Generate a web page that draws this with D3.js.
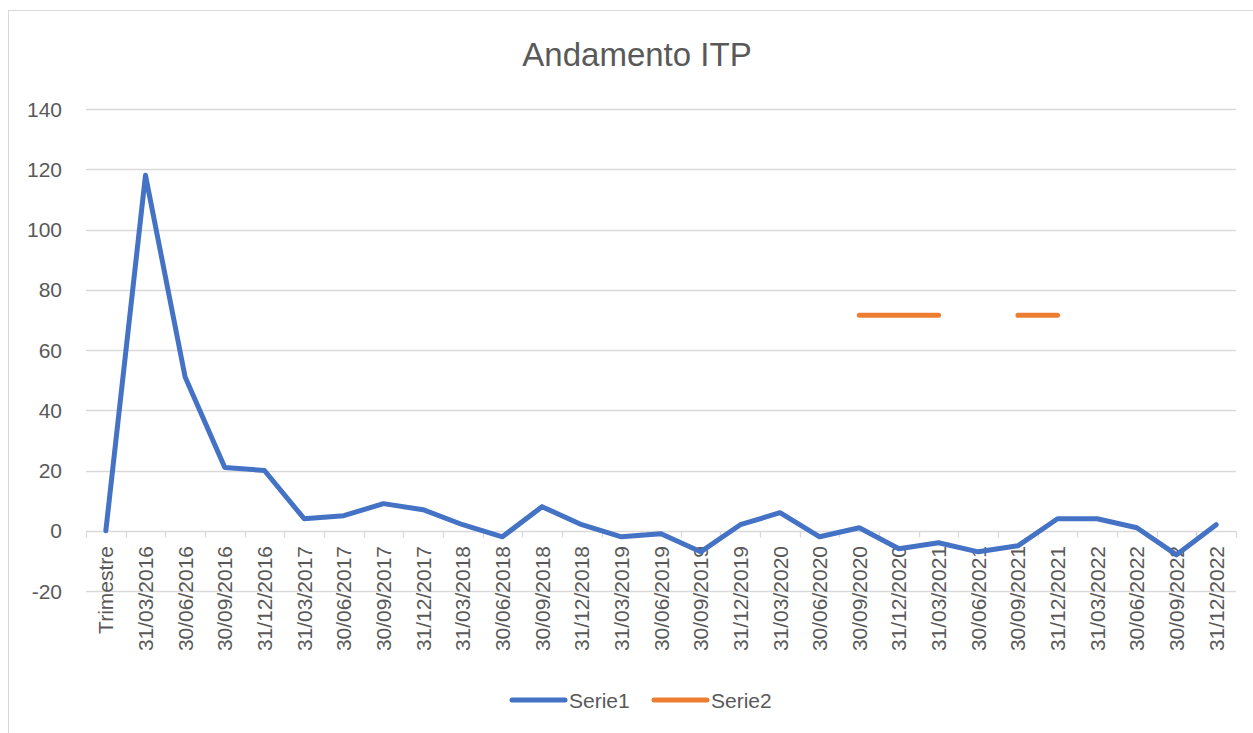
<!DOCTYPE html>
<html>
<head>
<meta charset="utf-8">
<script src="https://cdn.jsdelivr.net/npm/d3@7"></script>
<style>
  body { margin: 0; background: #fff; }
  text { font-family: "Liberation Sans", Arial, sans-serif; fill: #595959; }
</style>
</head>
<body>
<div id="wrapper"></div>
<script>
const categories = ["Trimestre", "31/03/2016", "30/06/2016", "30/09/2016", "31/12/2016",
  "31/03/2017", "30/06/2017", "30/09/2017", "31/12/2017",
  "31/03/2018", "30/06/2018", "30/09/2018", "31/12/2018",
  "31/03/2019", "30/06/2019", "30/09/2019", "31/12/2019",
  "31/03/2020", "30/06/2020", "30/09/2020", "31/12/2020",
  "31/03/2021", "30/06/2021", "30/09/2021", "31/12/2021",
  "31/03/2022", "30/06/2022", "30/09/2022", "31/12/2022"]
const serie1 = [0, 118, 51, 21, 20, 4, 5, 9, 7, 2, -2, 8, 2, -2, -1, -7, 2, 6, -2, 1, -6, -4, -7, -5, 4, 4, 1, -8, 2]
const serie2 = [null, null, null, null, null, null, null, null, null, null, null, null, null, null, null, null, null, null, null,
  71.5, 71.5, 71.5, null, 71.5, 71.5, null, null, null, null]
const yTicks = [-20, 0, 20, 40, 60, 80, 100, 120, 140]
const seriesNames = ["Serie1", "Serie2"]
const colors = ["#4472C4", "#ED7D31"]

const width = 1253, height = 733
const plot = {left: 86, right: 1236, top: 109, bottom: 591}

const svg = d3.select("#wrapper").append("svg")
  .attr("width", width).attr("height", height)

// outer chart border
svg.append("rect")
  .attr("x", 8.5).attr("y", 10.5)
  .attr("width", 1260).attr("height", 740)
  .attr("fill", "#fff").attr("stroke", "#d9d9d9")

svg.append("text")
  .attr("x", 637).attr("y", 66)
  .attr("text-anchor", "middle")
  .style("font-size", "33px")
  .text("Andamento ITP")

const xScale = d3.scaleBand().domain(categories).range([plot.left, plot.right])
const yScale = d3.scaleLinear().domain([-20, 140]).range([plot.bottom, plot.top])

// gridlines
svg.append("g").selectAll("line")
  .data(yTicks)
  .enter().append("line")
    .attr("x1", plot.left).attr("x2", plot.right)
    .attr("y1", d => Math.round(yScale(d)) + 0.5)
    .attr("y2", d => Math.round(yScale(d)) + 0.5)
    .attr("stroke", "#d9d9d9").attr("stroke-width", 1.3)

// y labels
svg.append("g").selectAll("text")
  .data(yTicks)
  .enter().append("text")
    .attr("x", 62)
    .attr("y", d => yScale(d))
    .attr("dy", "0.36em")
    .attr("text-anchor", "end")
    .style("font-size", "21px")
    .text(d => d)

// category axis at 0
const y0 = Math.round(yScale(0)) + 0.5
const bounds = categories.map(c => xScale(c)).concat([plot.right])
svg.append("g").selectAll("line")
  .data(bounds)
  .enter().append("line")
    .attr("x1", d => Math.round(d) + 0.5).attr("x2", d => Math.round(d) + 0.5)
    .attr("y1", y0).attr("y2", y0 + 6)
    .attr("stroke", "#d9d9d9").attr("stroke-width", 1.3)

svg.append("g").selectAll("text")
  .data(categories)
  .enter().append("text")
    .attr("transform", d => `translate(${xScale(d) + xScale.bandwidth() / 2},546) rotate(-90)`)
    .attr("text-anchor", "end")
    .attr("dy", "0.36em")
    .style("font-size", "21px")
    .text(d => d)

// lines
const line = d3.line()
  .defined(d => d.v !== null)
  .x(d => xScale(d.c) + xScale.bandwidth() / 2)
  .y(d => yScale(d.v))

;[serie1, serie2].forEach((s, i) => {
  svg.append("path")
    .datum(s.map((v, j) => ({c: categories[j], v: v})))
    .attr("d", line)
    .attr("fill", "none")
    .attr("stroke", colors[i])
    .attr("stroke-width", 5)
    .attr("stroke-linecap", "round")
    .attr("stroke-linejoin", "round")
})

// legend
const legendX = [510, 652]
const legend = svg.append("g").selectAll("g")
  .data(seriesNames)
  .enter().append("g")
    .attr("transform", (d, i) => `translate(${legendX[i]},700)`)
legend.append("line")
  .attr("x1", 2).attr("x2", 55)
  .attr("stroke", (d, i) => colors[i])
  .attr("stroke-width", 5)
  .attr("stroke-linecap", "round")
legend.append("text")
  .attr("x", 59).attr("dy", "0.36em")
  .style("font-size", "21px")
  .text(d => d)
</script>
</body>
</html>
